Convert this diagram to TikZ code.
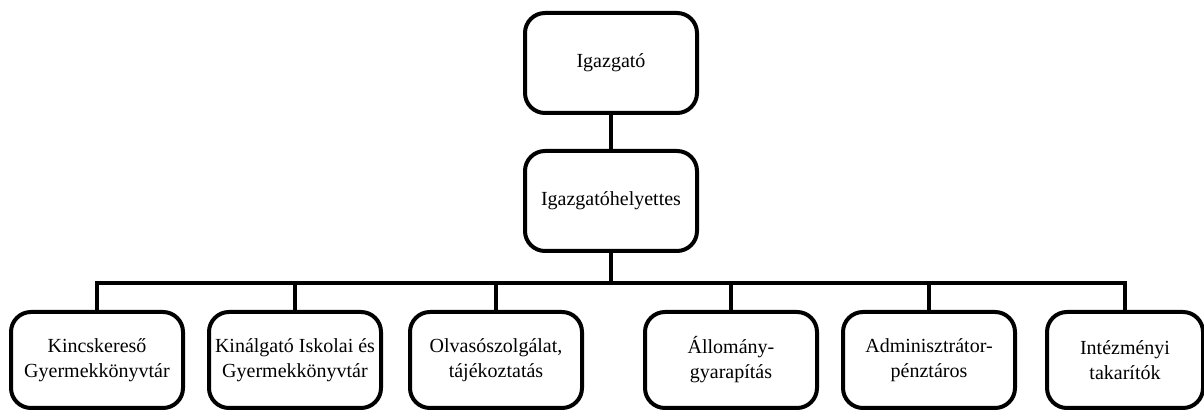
\documentclass[tikz,border=0pt]{standalone}
\usepackage{fontspec}
\setmainfont{Liberation Serif}
\usetikzlibrary{positioning}
\tikzset{
  unit/.style={draw,line width=2pt,rounded corners=10pt,align=center,
    minimum width=86pt,minimum height=50pt,inner sep=2pt},
  subunit/.style={unit,minimum height=48pt},
  link/.style={line width=1.8pt}
}

\begin{document}
\begin{tikzpicture}[x=0.5pt,y=-0.5pt,font=\fontsize{10}{12.5}\selectfont]
  \useasboundingbox (0,0) rectangle (1204,410);
  % leadership
  \node[unit] (head) at (611,63) {Igazgató};
  \node[unit] (deputy) at (611,201) {Igazgatóhelyettes};
  % departments, one row
  \node[subunit] (dep1) at (97,360) {Kincskereső\\Gyermekkönyvtár};
  \node[subunit] (dep2) at (295,360) {Kinálgató Iskolai és\\Gyermekkönyvtár};
  \node[subunit] (dep3) at (496,360) {Olvasószolgálat,\\tájékoztatás};
  \node[subunit] (dep4) at (731,360) {Állomány-\\gyarapítás};
  \node[subunit] (dep5) at (929,360) {Adminisztrátor-\\pénztáros};
  \node[subunit,minimum width=78pt] (dep6) at (1125,360) {Intézményi\\takarítók};
  % connectors
  \coordinate (bus) at (0,283);
  \draw[link] (head) -- (deputy);
  \draw[link] (deputy) -- (deputy |- bus);
  \draw[link] (dep1) -- (dep1 |- bus) -- (dep6 |- bus) -- (dep6);
  \foreach \i in {2,...,5}{
    \draw[link] (dep\i) -- (dep\i |- bus);
  }
\end{tikzpicture}
\end{document}
